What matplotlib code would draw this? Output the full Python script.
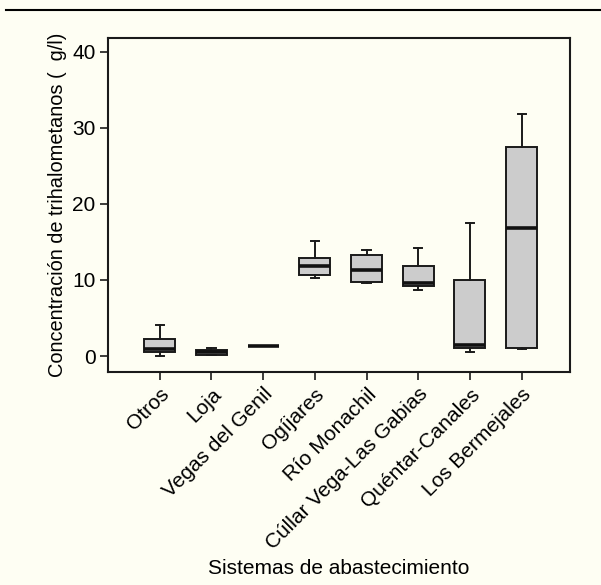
import matplotlib
matplotlib.use("Agg")
import matplotlib.pyplot as plt
from matplotlib.lines import Line2D

plt.rcParams['font.family'] = ['Liberation Sans', 'DejaVu Sans']

categories = ["Otros", "Loja", "Vegas del Genil", "Ogíjares", "Río Monachil",
              "Cúllar Vega-Las Gabias", "Quéntar-Canales", "Los Bermejales"]
whisker_low = [0.0, 0.1, 1.27, 10.2, 9.55, 8.7, 0.57, 0.9]
q1 = [0.5, 0.17, 1.27, 10.6, 9.7, 9.2, 1.0, 1.1]
median = [0.97, 0.5, 1.27, 11.9, 11.3, 9.65, 1.45, 16.8]
q3 = [2.3, 0.83, 1.27, 12.9, 13.3, 11.9, 10.0, 27.5]
whisker_high = [4.1, 1.1, 1.27, 15.1, 13.9, 14.25, 17.5, 31.8]
yticks = [0, 10, 20, 30, 40]

bg = '#fefef3'
fig = plt.figure(figsize=(6.01, 5.85), dpi=100, facecolor=bg)
ax = fig.add_axes([0.1797, 0.364, 0.948 - 0.1797, 0.935 - 0.364])
ax.set_facecolor(bg)

stats = []
for i, c in enumerate(categories):
    stats.append(dict(label=c, whislo=whisker_low[i], q1=q1[i], med=median[i],
                      q3=q3[i], whishi=whisker_high[i], fliers=[]))

ax.bxp(stats, positions=range(1, len(categories) + 1), widths=0.6,
       patch_artist=True, showfliers=False,
       boxprops=dict(facecolor='#cccccc', edgecolor='#1a1a1a', linewidth=1.4),
       medianprops=dict(color='#111111', linewidth=2.6),
       whiskerprops=dict(color='#1a1a1a', linewidth=1.4),
       capprops=dict(color='#1a1a1a', linewidth=1.4),
       capwidths=0.16)

ax.set_xlim(0.0, 8.93)
ax.set_ylim(-2.1, 41.8)
ax.set_yticks(yticks)
ax.set_yticklabels([str(v) for v in yticks], fontsize=15)
ax.set_xticks(range(1, len(categories) + 1))
ax.set_xticklabels(categories, rotation=45, ha='right', rotation_mode='anchor', fontsize=15)
ax.tick_params(axis='both', direction='out', length=6, width=1.2, color='#1a1a1a', pad=3)
for s in ax.spines.values():
    s.set_linewidth(1.5)
    s.set_color('#1a1a1a')

ax.set_ylabel("Concentración de trihalometanos (  g/l)", fontsize=14.4, labelpad=4)
fig.text(0.5641, 1 - 568 / 585, "Sistemas de abastecimiento", ha='center', va='center', fontsize=15)

fig.add_artist(Line2D([6 / 601, 1.0], [1 - 10 / 585, 1 - 10 / 585], color='black',
                      linewidth=1.5, transform=fig.transFigure))

fig.savefig("out.png", dpi=100, facecolor=bg)
